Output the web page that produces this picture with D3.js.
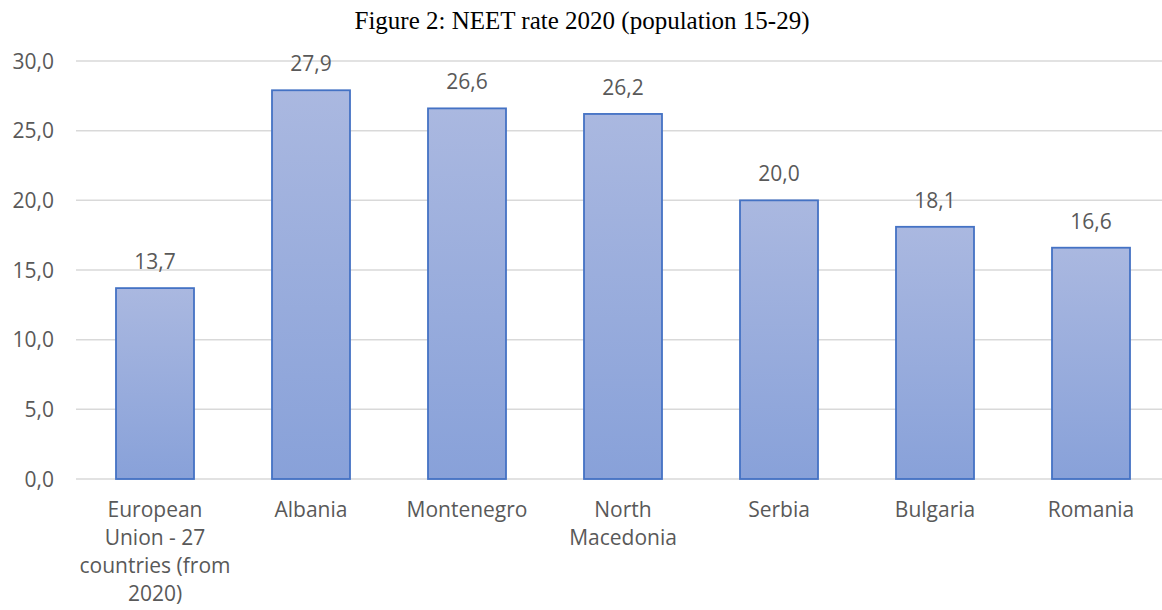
<!DOCTYPE html>
<html><head><meta charset="utf-8">
<script src="https://cdn.jsdelivr.net/npm/d3@7"></script>
<style>body{margin:0;background:#fff;}svg{display:block;}</style>
</head><body>
<svg id="c" width="1162" height="610"></svg>
<script>
const categories = [["European","Union - 27","countries (from","2020)"],["Albania"],["Montenegro"],["North","Macedonia"],["Serbia"],["Bulgaria"],["Romania"]];
const values = [13.7, 27.9, 26.6, 26.2, 20.0, 18.1, 16.6];
const yTicks = [0, 5, 10, 15, 20, 25, 30];
const title = "Figure 2: NEET rate 2020 (population 15-29)";

const svg = d3.select("#c");
const fmt = v => v.toFixed(1).replace(".", ",");
const lab = "'Open Sans', 'Noto Sans', sans-serif";
const fs = 21;

const x = d3.scaleBand().domain(d3.range(categories.length)).range([77, 1169]).paddingInner(0.5).paddingOuter(0.25);
const y = d3.scaleLinear().domain([0, 30]).range([479, 61]);

const defs = svg.append("defs");
const g = defs.append("linearGradient").attr("id","bg").attr("x1",0).attr("y1",0).attr("x2",0).attr("y2",1);
g.append("stop").attr("offset","0%").attr("stop-color","#aab8e0");
g.append("stop").attr("offset","100%").attr("stop-color","#88a1d9");

svg.append("text").attr("x", 582).attr("y", 29).attr("text-anchor","middle")
  .attr("font-family","'Liberation Serif','Times New Roman',serif").attr("font-size", 25).attr("fill","#000").text(title);

svg.append("g").selectAll("line").data(yTicks).join("line")
  .attr("x1", 76).attr("x2", 1162).attr("y1", d => y(d)).attr("y2", d => y(d))
  .attr("stroke", "#d9d9d9").attr("stroke-width", 1.5);

const yAxis = d3.axisLeft(y).tickValues(yTicks).tickFormat(fmt).tickSize(0).tickPadding(0);
const ya = svg.append("g").attr("transform","translate(54,0)").call(yAxis);
ya.select(".domain").remove();
ya.selectAll("text").attr("font-family", lab).attr("font-size", fs).attr("fill","#595959").attr("dy","0.34em");

svg.append("g").selectAll("rect").data(values).join("rect")
  .attr("x", (d,i) => x(i)).attr("width", x.bandwidth())
  .attr("y", d => y(d)).attr("height", d => y(0) - y(d))
  .attr("fill", "url(#bg)").attr("stroke", "#4472c4").attr("stroke-width", 1.8);

svg.append("g").selectAll("text").data(values).join("text")
  .attr("x", (d,i) => x(i) + x.bandwidth()/2).attr("y", d => y(d) - 19)
  .attr("text-anchor","middle").attr("font-family", lab).attr("font-size", fs).attr("fill","#595959")
  .text(fmt);

const xl = svg.append("g").selectAll("text").data(categories).join("text")
  .attr("x", (d,i) => x(i) + x.bandwidth()/2).attr("y", 517)
  .attr("text-anchor","middle").attr("font-family", lab).attr("font-size", fs).attr("fill","#595959");
xl.selectAll("tspan").data(d => d).join("tspan")
  .attr("x", function(){ return this.parentNode.getAttribute("x"); })
  .attr("dy", (d,i) => i === 0 ? 0 : 28).text(d => d);
</script>
</body></html>
